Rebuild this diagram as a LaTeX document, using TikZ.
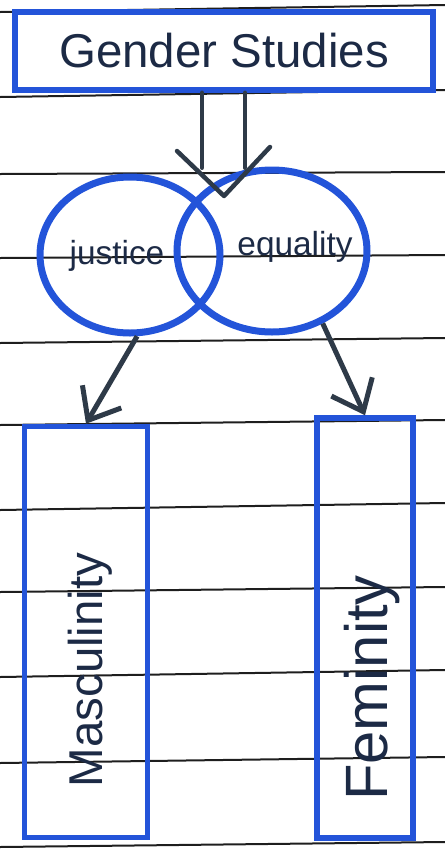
\documentclass[tikz,border=0pt]{standalone}
\usepackage{fontspec}
\setmainfont{Liberation Sans}
\usetikzlibrary{arrows.meta,positioning,shapes.geometric,calc}
\definecolor{PenBlue}{HTML}{2354D9}
\definecolor{InkNavy}{HTML}{1C2A45}
\definecolor{InkGray}{HTML}{2E3A48}
\definecolor{RuleBlack}{HTML}{1E1E1E}

\begin{document}
\begin{tikzpicture}[x=0.2mm, y=-0.2mm,
  rule/.style={draw=RuleBlack, line width=0.4mm},
  titlebox/.style={draw=PenBlue, line width=1.1mm, fill=white, minimum width=83.6mm, minimum height=15.6mm, text=InkNavy, font=\fontsize{27}{31}\selectfont},
  oval/.style={ellipse, draw=PenBlue, line width=1.4mm, inner sep=0pt},
  word/.style={text=InkNavy, font=\fontsize{19}{22}\selectfont},
  col/.style={draw=PenBlue, line width=1.1mm},
  vlabel/.style={rotate=90, text=InkNavy},
  arr/.style={-{Straight Barb[length=5.5mm,width=9mm]}, line width=1mm, draw=InkGray},
  shaft/.style={line width=0.9mm, draw=InkGray, line cap=round, line join=round}
]
\useasboundingbox (0,0) rectangle (445,855);
% paper rules
\foreach \l/\r in {12/5,97/90,174/172,258/255,343/338,425/420,510/503,592/587,677/670,763/757,847/842}
  \draw[rule] (0,\l) -- (445,\r);

\node[titlebox] (gs) at (224,51) {Gender Studies};
\node[oval, minimum width=36mm, minimum height=31.2mm] (just) at (130,255) {};
\node[oval, minimum width=38mm, minimum height=32.4mm] (equal) at (272,251) {};
\node[word] (justtxt) at (117,256) {justice};
\node[word] (equaltxt) at (295,247) {equality};

\node[col, minimum width=24.6mm, minimum height=82.2mm] (masc) at (86,632) {};
\node[col, minimum width=19.2mm, minimum height=84mm] (fem) at (365,628) {};
\node[vlabel, font=\fontsize{27}{30}\selectfont] (masctxt) at (90,670) {Masculinity};
\node[vlabel, font=\fontsize{34}{38}\selectfont] (femtxt) at (372,688) {Feminity};

% double arrow into the overlap
\coordinate (meet) at (224,196);
\draw[shaft] ([xshift=-4.4mm]gs.south) -- ++(0,75);
\draw[shaft] ([xshift=4.2mm]gs.south) -- ++(0,75);
\draw[shaft] ($(meet)+(-47,-45)$) -- (meet) -- ($(meet)+(46,-49)$);

\draw[arr] (just.-85) -- (masc.north);
\draw[arr] (equal.-55) -- (fem.north);
\end{tikzpicture}
\end{document}
